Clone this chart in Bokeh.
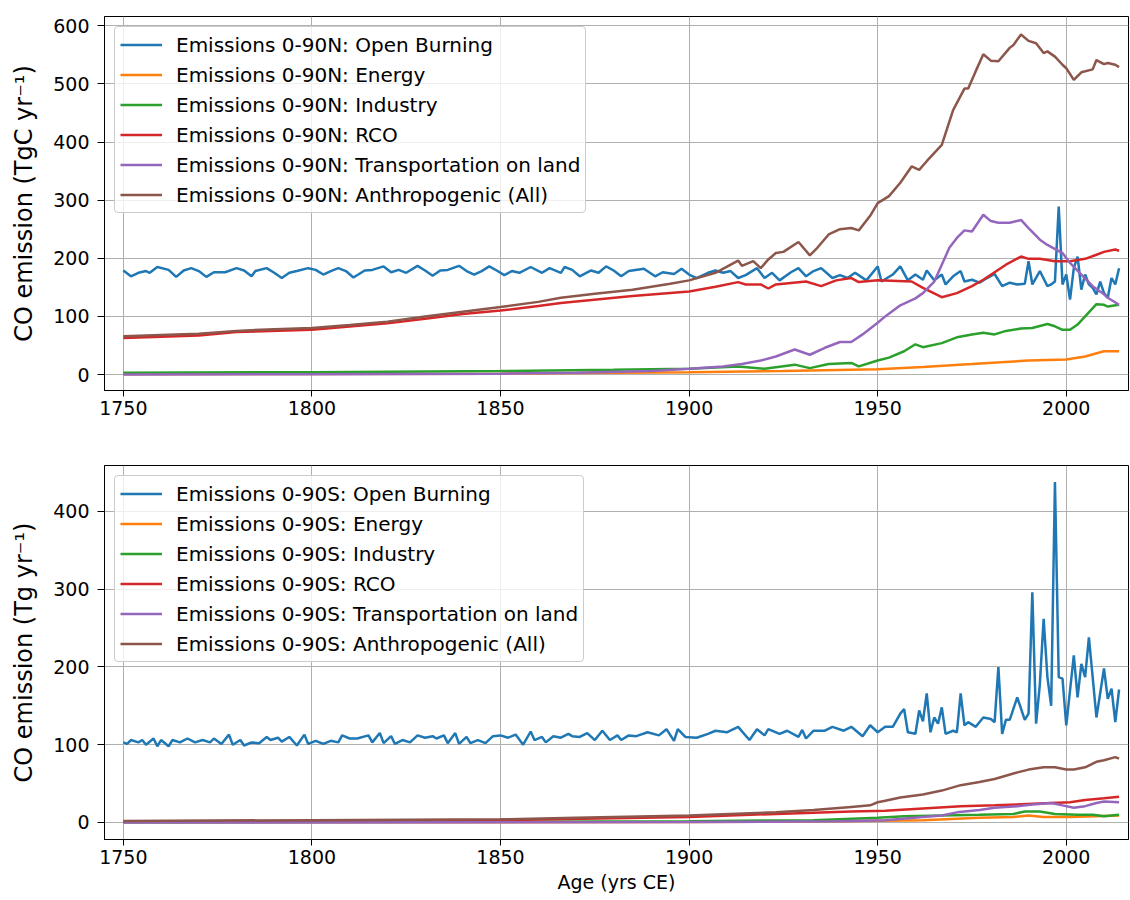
from bokeh.plotting import figure
from bokeh.layouts import column
from bokeh.models import Range1d, FixedTicker, Legend, LegendItem
from bokeh.embed import file_html
from bokeh.resources import INLINE

# ---------------- data: Northern hemisphere (0-90N), TgC/yr ----------------
ob_n_years = [1750, 1752, 1754, 1756, 1757, 1759, 1762, 1764, 1766, 1768, 1770, 1772, 1774, 1777,
              1780, 1782, 1784, 1785, 1788, 1790, 1792, 1794, 1796, 1799, 1801, 1803, 1805, 1807,
              1809, 1811, 1814, 1816, 1819, 1821, 1823, 1825, 1828, 1830, 1832, 1834, 1836, 1839,
              1841, 1843, 1845, 1847, 1849, 1851, 1853, 1855, 1858, 1861, 1863, 1866, 1867, 1869,
              1871, 1874, 1876, 1878, 1880, 1882, 1884, 1888, 1891, 1893, 1896, 1898, 1900, 1902,
              1905, 1907, 1909, 1911, 1913, 1915, 1918, 1920, 1922, 1924, 1927, 1929, 1931, 1933,
              1935, 1938, 1940, 1942, 1944, 1947, 1950, 1951, 1954, 1956, 1958, 1960, 1962, 1963,
              1965, 1967, 1968, 1970, 1972, 1973, 1975, 1977, 1979, 1981, 1983, 1985, 1987, 1989,
              1990, 1991, 1993, 1995, 1996, 1997, 1998, 1999, 2000, 2001, 2002, 2003, 2004, 2005,
              2006, 2007, 2008, 2009, 2010, 2011, 2012, 2013, 2014]
ob_n = [179, 169, 175, 178, 175, 185, 180, 168, 179, 183, 178, 168, 176, 176,
        183, 179, 169, 178, 183, 175, 166, 175, 178, 183, 180, 172, 178, 183,
        178, 167, 179, 180, 186, 176, 180, 175, 187, 179, 170, 179, 180, 187,
        178, 172, 178, 186, 179, 171, 178, 175, 185, 175, 183, 175, 185, 180,
        169, 179, 175, 186, 179, 169, 178, 182, 169, 176, 173, 182, 172, 166,
        175, 179, 175, 178, 166, 171, 183, 166, 175, 162, 176, 183, 169, 178,
        183, 166, 171, 166, 175, 162, 186, 160, 172, 186, 162, 172, 163, 179,
        162, 172, 155, 169, 178, 160, 163, 158, 166, 173, 152, 158, 155, 156,
        195, 155, 178, 152, 155, 160, 289, 155, 172, 129, 183, 203, 146, 172,
        155, 149, 138, 160, 140, 132, 166, 155, 183]

en_n_years = [1750, 1850, 1900, 1925, 1950, 1962, 1975, 1990, 2000, 2005, 2010, 2014]
en_n = [0.5, 1.5, 4, 6, 9, 13, 18, 24, 26, 31, 40, 40]

in_n_years = [1750, 1800, 1850, 1880, 1900, 1913, 1920, 1928, 1932, 1937, 1943, 1945, 1950,
              1953, 1957, 1960, 1962, 1967, 1971, 1975, 1978, 1981, 1984, 1988, 1991, 1995,
              1997, 1999, 2001, 2003, 2005, 2008, 2010, 2011, 2014]
in_n = [3, 4, 6, 8, 10, 14, 10, 17, 11, 18, 20, 14, 24,
        29, 40, 52, 47, 54, 64, 69, 72, 69, 75, 79, 80, 87,
        83, 77, 77, 86, 100, 121, 120, 117, 120]

rco_n_years = [1750, 1770, 1780, 1800, 1820, 1830, 1840, 1850, 1860, 1866, 1885, 1900, 1907,
               1913, 1915, 1919, 1921, 1923, 1931, 1935, 1939, 1943, 1945, 1950, 1959, 1962,
               1967, 1971, 1975, 1978, 1981, 1984, 1988, 1990, 1993, 1997, 2001, 2005, 2008,
               2010, 2013, 2014]
rco_n = [63, 67, 73, 77, 88, 96, 104, 110, 118, 123, 135, 143, 151,
         159, 155, 155, 148, 155, 160, 152, 162, 166, 159, 162, 160, 149,
         133, 140, 152, 163, 176, 189, 203, 199, 199, 195, 195, 199, 206,
         211, 215, 213]

tr_n_years = [1750, 1800, 1850, 1870, 1890, 1900, 1909, 1914, 1919, 1923, 1928, 1932, 1936,
              1940, 1943, 1946, 1950, 1952, 1956, 1960, 1962, 1965, 1967, 1969, 1971, 1973,
              1975, 1978, 1980, 1982, 1985, 1988, 1990, 1993, 1995, 1999, 2001, 2004, 2007,
              2010, 2011, 2014]
tr_n = [0, 0.5, 1.5, 3, 6, 10, 14, 18, 24, 31, 43, 34, 46,
        56, 56, 69, 89, 100, 119, 131, 140, 160, 189, 218, 235, 248,
        246, 275, 264, 261, 261, 266, 252, 232, 223, 209, 192, 172, 152,
        138, 132, 120]

an_n_years = [1750, 1760, 1770, 1780, 1790, 1800, 1810, 1820, 1830, 1840, 1850, 1860, 1866,
              1875, 1885, 1895, 1900, 1907, 1913, 1914, 1917, 1919, 1921, 1923, 1925, 1929,
              1932, 1934, 1937, 1940, 1943, 1945, 1948, 1950, 1953, 1956, 1959, 1961, 1963,
              1967, 1970, 1973, 1974, 1976, 1978, 1980, 1982, 1985, 1986, 1988, 1990, 1992,
              1994, 1995, 1997, 1999, 2000, 2002, 2004, 2007, 2008, 2010, 2011, 2013, 2014]
an_n = [66, 68, 70, 75, 78, 80, 85, 91, 100, 108, 116, 125, 132,
        139, 146, 156, 162, 175, 196, 187, 195, 183, 198, 209, 211, 228,
        205, 218, 241, 250, 252, 248, 273, 295, 307, 330, 358, 352, 367,
        395, 455, 492, 492, 522, 551, 540, 539, 562, 567, 585, 574, 570,
        553, 556, 547, 533, 527, 507, 520, 525, 541, 534, 536, 533, 529]

# ---------------- data: Southern hemisphere (0-90S), Tg/yr ----------------
ob_s_years = [1750, 1751, 1752, 1754, 1755, 1756, 1758, 1759, 1760, 1762, 1763, 1765, 1767, 1769,
              1771, 1773, 1774, 1776, 1778, 1779, 1781, 1782, 1784, 1786, 1788, 1789, 1791, 1792,
              1794, 1796, 1798, 1799, 1801, 1803, 1805, 1807, 1808, 1810, 1812, 1815, 1816, 1818,
              1819, 1821, 1822, 1824, 1826, 1828, 1830, 1832, 1833, 1835, 1836, 1838, 1839, 1841,
              1842, 1844, 1846, 1848, 1850, 1852, 1854, 1856, 1858, 1859, 1861, 1862, 1864, 1866,
              1868, 1869, 1871, 1873, 1875, 1877, 1879, 1881, 1882, 1884, 1886, 1889, 1892, 1894,
              1896, 1897, 1899, 1902, 1905, 1907, 1910, 1913, 1916, 1918, 1920, 1921, 1924, 1926,
              1929, 1930, 1931, 1933, 1936, 1938, 1941, 1943, 1946, 1948, 1950, 1952, 1954, 1956,
              1957, 1958, 1960, 1961, 1962, 1963, 1964, 1965, 1966, 1967, 1968, 1970, 1971, 1972,
              1973, 1974, 1976, 1978, 1980, 1981, 1982, 1983, 1984, 1985, 1987, 1989, 1990, 1991,
              1992, 1993, 1994, 1995, 1996, 1997, 1998, 1999, 2000, 2002, 2003, 2004, 2005, 2006,
              2007, 2008, 2010, 2011, 2012, 2013, 2014]
ob_s = [103, 101, 106, 103, 106, 100, 108, 98, 106, 98, 106, 103, 108, 103,
        106, 103, 108, 101, 113, 100, 106, 99, 103, 102, 110, 106, 109, 104,
        110, 99, 113, 101, 105, 101, 105, 103, 112, 108, 108, 112, 103, 115,
        102, 111, 101, 106, 103, 112, 109, 111, 108, 112, 102, 115, 101, 110,
        102, 106, 102, 111, 112, 109, 113, 100, 117, 106, 110, 103, 111, 109,
        114, 111, 110, 115, 106, 118, 106, 112, 106, 112, 111, 116, 112, 120,
        105, 120, 110, 109, 114, 118, 116, 123, 106, 120, 112, 120, 114, 118,
        110, 119, 108, 118, 118, 123, 118, 123, 111, 125, 116, 123, 123, 140,
        146, 116, 114, 144, 130, 166, 116, 135, 127, 148, 114, 118, 116, 166,
        125, 129, 123, 135, 133, 129, 200, 114, 132, 132, 161, 132, 140, 296,
        127, 178, 262, 187, 150, 438, 187, 185, 125, 215, 161, 204, 187, 238,
        187, 135, 198, 159, 172, 129, 171]

en_s_years = [1750, 1900, 1940, 1962, 1977, 1986, 1990, 1994, 2001, 2014]
en_s = [0.1, 0.5, 1.5, 3, 6, 7, 9, 7, 7, 9]

in_s_years = [1750, 1850, 1900, 1933, 1950, 1957, 1967, 1977, 1986, 1989, 1993, 1997, 2003,
              2007, 2010, 2014]
in_s = [0.3, 0.8, 1.5, 3, 6, 8, 9, 10, 11, 14, 14, 11, 10, 10, 8, 10]

rco_s_years = [1750, 1800, 1850, 1900, 1923, 1943, 1952, 1962, 1972, 1981, 1991, 2001, 2005,
               2010, 2014]
rco_s = [1, 2, 3, 7, 11, 14, 15, 18, 21, 22, 24, 26, 29, 31, 33]

tr_s_years = [1750, 1900, 1940, 1952, 1962, 1967, 1971, 1977, 1981, 1987, 1991, 1996, 1999,
              2002, 2005, 2008, 2010, 2014]
tr_s = [0, 0.5, 1.5, 3, 7, 9, 13, 16, 19, 21, 23, 25, 22, 19, 21, 25, 27, 26]

an_s_years = [1750, 1800, 1850, 1870, 1900, 1923, 1933, 1943, 1948, 1950, 1952, 1956, 1962,
              1967, 1972, 1977, 1981, 1986, 1990, 1994, 1997, 2000, 2002, 2005, 2008, 2010,
              2013, 2014]
an_s = [2, 3, 4, 6, 9, 13, 16, 20, 22, 26, 28, 32, 36,
        41, 48, 52, 56, 63, 68, 71, 71, 68, 68, 71, 78, 80, 84, 82]

x_ticks = [1750, 1800, 1850, 1900, 1950, 2000]
y_ticks_n = [0, 100, 200, 300, 400, 500, 600]
y_ticks_s = [0, 100, 200, 300, 400]

sector_names = ["Open Burning", "Energy", "Industry", "RCO", "Transportation on land",
                "Anthropogenic (All)"]
colors = ["#1f77b4", "#ff7f0e", "#2ca02c", "#d62728", "#9467bd", "#8c564b"]

FONT = "DejaVu Sans"


def make_panel(series, region, ylabel, yr, yticks, top_border, bottom_border, xlabel=None):
    p = figure(frame_width=1024, frame_height=374,
               x_range=Range1d(1745.0, 2016.5), y_range=Range1d(*yr),
               output_backend="svg", toolbar_location=None,
               min_border_left=104, min_border_right=2,
               min_border_top=top_border, min_border_bottom=bottom_border)
    p.background_fill_color = "white"
    p.border_fill_color = "white"
    p.outline_line_color = "black"
    p.outline_line_alpha = 1.0
    p.outline_line_width = 1

    p.xaxis.ticker = FixedTicker(ticks=x_ticks)
    p.yaxis.ticker = FixedTicker(ticks=yticks)
    p.xgrid.ticker = FixedTicker(ticks=x_ticks)
    p.ygrid.ticker = FixedTicker(ticks=yticks)
    p.grid.grid_line_color = "#b0b0b0"
    p.grid.grid_line_alpha = 1.0
    p.grid.grid_line_width = 1

    for ax in (p.xaxis, p.yaxis):
        ax.axis_line_color = "black"
        ax.major_tick_line_color = "black"
        ax.minor_tick_line_color = None
        ax.major_tick_in = 0
        ax.major_label_text_font = FONT
        ax.major_label_text_font_size = "19px"
        ax.major_label_text_color = "black"
    p.xaxis.major_tick_out = 6
    p.yaxis.major_tick_out = 7
    p.xaxis.major_label_standoff = 4
    p.yaxis.major_label_standoff = 8

    p.yaxis.axis_label = ylabel
    p.yaxis.axis_label_text_font = FONT
    p.yaxis.axis_label_text_font_size = "24px"
    p.yaxis.axis_label_text_font_style = "normal"
    p.yaxis.axis_label_text_color = "black"
    p.yaxis.axis_label_standoff = 12
    if xlabel:
        p.xaxis.axis_label = xlabel
        p.xaxis.axis_label_text_font = FONT
        p.xaxis.axis_label_text_font_size = "19px"
        p.xaxis.axis_label_text_font_style = "normal"
        p.xaxis.axis_label_text_color = "black"
        p.xaxis.axis_label_standoff = 4

    items = []
    for (xs, ys), name, c in zip(series, sector_names, colors):
        r = p.line(xs, ys, line_color=c, line_width=2.5)
        items.append(LegendItem(label="Emissions %s: %s" % (region, name), renderers=[r]))

    legend = Legend(items=items, location="top_left")
    legend.margin = 10
    legend.padding = 5
    legend.spacing = 5
    legend.label_height = 25
    legend.glyph_height = 25
    legend.glyph_width = 42
    legend.label_standoff = 14
    legend.label_text_font = FONT
    legend.label_text_font_size = "20px"
    legend.label_text_color = "black"
    legend.border_line_color = "#cccccc"
    legend.border_line_alpha = 1.0
    legend.background_fill_color = "white"
    legend.background_fill_alpha = 0.8
    try:
        legend.border_radius = 4
    except Exception:
        pass
    p.add_layout(legend)
    return p


north = [(ob_n_years, ob_n), (en_n_years, en_n), (in_n_years, in_n),
         (rco_n_years, rco_n), (tr_n_years, tr_n), (an_n_years, an_n)]
south = [(ob_s_years, ob_s), (en_s_years, en_s), (in_s_years, in_s),
         (rco_s_years, rco_s), (tr_s_years, tr_s), (an_s_years, an_s)]

p1 = make_panel(north, "0-90N", "CO emission (TgC yr\u207b\u00b9)", (-27.5, 616.0),
                y_ticks_n, 16, 40)
p2 = make_panel(south, "0-90S", "CO emission (Tg yr\u207b\u00b9)", (-21.9, 459.1),
                y_ticks_s, 35, 58, xlabel="Age (yrs CE)")

layout = column(p1, p2, spacing=0)

open("out.html", "w").write(file_html(layout, INLINE))
